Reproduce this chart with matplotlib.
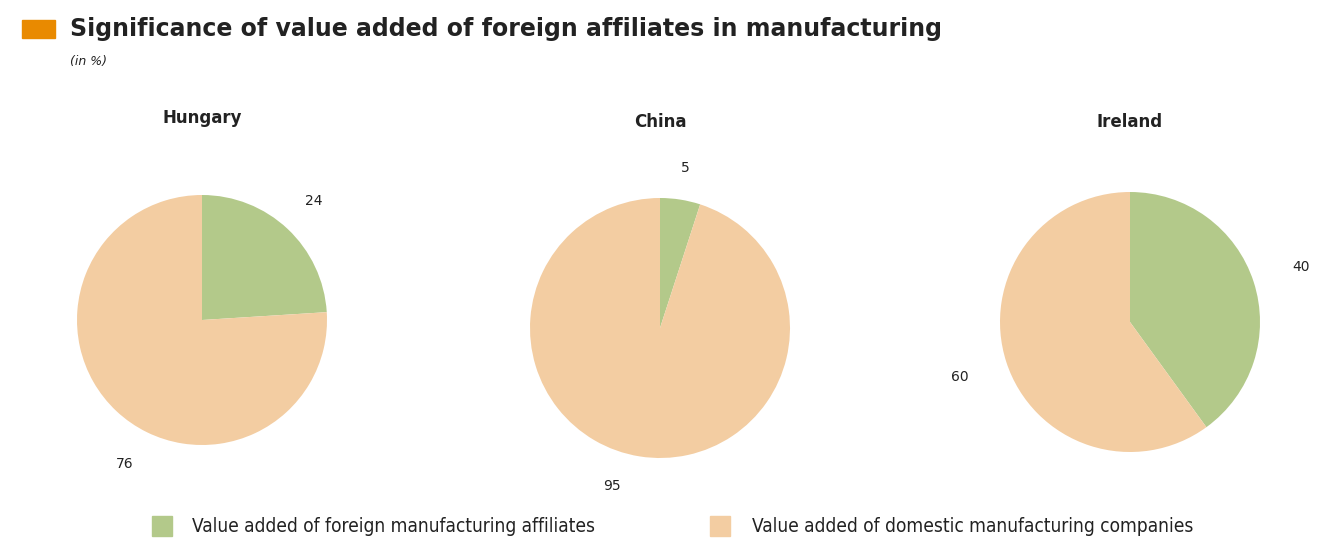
import matplotlib
matplotlib.use("Agg")
import matplotlib.pyplot as plt
from matplotlib.patches import Rectangle

countries = ["Hungary", "China", "Ireland"]
foreign = [24, 5, 40]
domestic = [76, 95, 60]
series_labels = ["Value added of foreign manufacturing affiliates",
                 "Value added of domestic manufacturing companies"]
title = "Significance of value added of foreign affiliates in manufacturing"
subtitle = "(in %)"

GREEN = "#b3c98a"
PEACH = "#f3cda2"
ORANGE = "#e98a00"

W, H = 1319, 539
fig = plt.figure(figsize=(W / 100, H / 100), dpi=100)

def px_axes(cx, cy, r):
    return fig.add_axes([(cx - r) / W, 1 - (cy + r) / H, 2 * r / W, 2 * r / H])

# pie geometry in pixels (center x, center y, radius), title y, label distance
geoms = [(202, 320, 125, 118, 1.31), (660, 328, 130, 122, 1.25), (1130, 322, 130, 122, 1.38)]

for name, f, d, (cx, cy, r, ty, ld) in zip(countries, foreign, domestic, geoms):
    ax = px_axes(cx, cy, r)
    wedges, texts = ax.pie([f, d], colors=[GREEN, PEACH], startangle=90, counterclock=False,
                           labels=[str(f), str(d)], labeldistance=ld,
                           textprops=dict(fontsize=10, color="#222222"))
    for t in texts:
        t.set_ha("center")
        t.set_va("center")
    ax.set_xlim(-1, 1)
    ax.set_ylim(-1, 1)
    ax.set_aspect("equal")
    fig.text(cx / W, 1 - ty / H, name, ha="center", va="center", fontsize=12,
             fontweight="bold", color="#222222")

# some labels sit further around in the original
fig.axes[0].texts[1].set_position((-0.62, -1.15))
fig.axes[1].texts[1].set_position((-0.37, -1.215))

# title
fig.patches.append(Rectangle((22 / W, 1 - 38 / H), 33 / W, 18 / H, transform=fig.transFigure,
                             color=ORANGE, zorder=5))
fig.text(70 / W, 1 - 29 / H, title, ha="left", va="center", fontsize=17, fontweight="bold",
         color="#222222")
fig.text(70 / W, 1 - 61 / H, subtitle, ha="left", va="center", fontsize=9, style="italic",
         color="#222222")

# legend
leg_x = [(152, 192), (710, 752)]
for (sx, tx), lab, col in zip(leg_x, series_labels, [GREEN, PEACH]):
    fig.patches.append(Rectangle((sx / W, 1 - 536 / H), 20 / W, 20 / H,
                                 transform=fig.transFigure, color=col))
    fig.text(tx / W, 1 - 526 / H, lab, ha="left", va="center", fontsize=13.7,
             family="DejaVu Sans", stretch="condensed", color="#222222")

fig.savefig("out.png", dpi=100)
